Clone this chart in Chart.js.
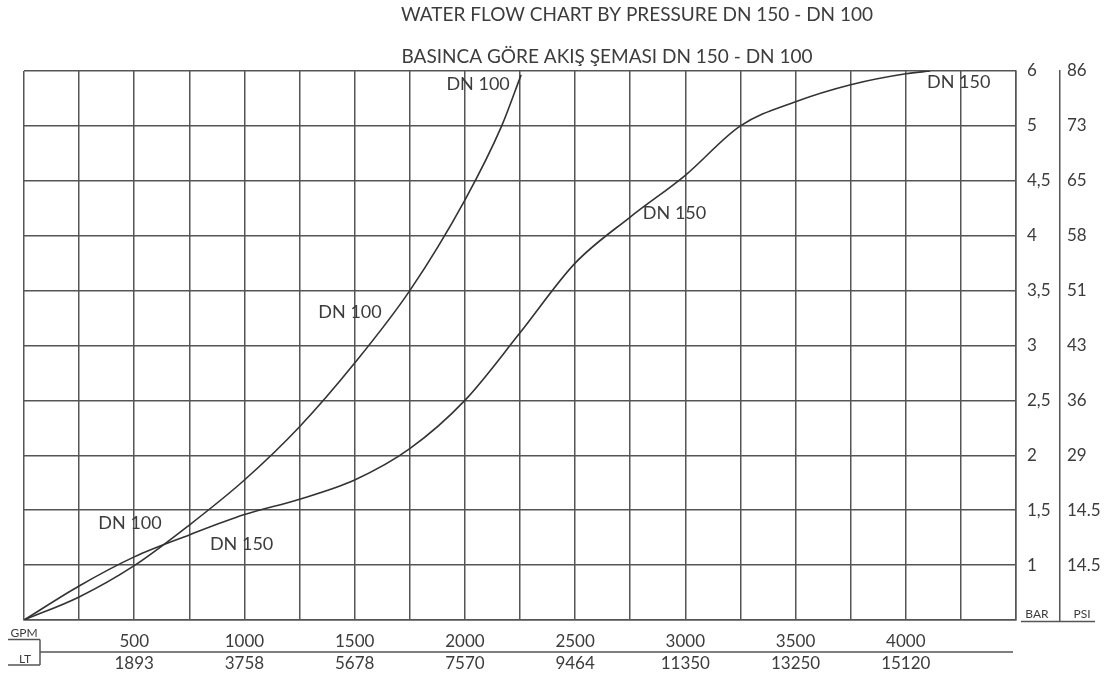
<!DOCTYPE html>
<html>
<head>
<meta charset="utf-8">
<script src="https://cdn.jsdelivr.net/npm/chart.js@4.4.1/dist/chart.umd.min.js"></script>
<style>
  html, body { margin: 0; padding: 0; background: #fff; }
  #wrap { width: 1105px; height: 688px; position: relative; }
</style>
</head>
<body>
<div id="wrap"><canvas id="grafico"></canvas></div>
<script>
// eje X: caudal en GPM (cada linea de rejilla = 250 GPM)
const gpmTicks = [500, 1000, 1500, 2000, 2500, 3000, 3500, 4000];
const ltTicks = [1893, 3758, 5678, 7570, 9464, 11350, 13250, 15120];

// eje Y: la escala no es lineal, cada fila de la rejilla es un escalon
const barLabels = ['', '1', '1,5', '2', '2,5', '3', '3,5', '4', '4,5', '5', '6'];
const psiLabels = ['', '14.5', '14.5', '29', '36', '43', '51', '58', '65', '73', '86'];

// curvas (y = fila de la rejilla)
const dn100Gpm = [0, 250, 500, 750, 1000, 1250, 1500, 1750, 2000, 2167, 2255];
const dn100Nivel = [0, 0.42, 0.99, 1.73, 2.55, 3.52, 4.68, 6.0, 7.65, 9.0, 9.93];

const dn150Gpm = [0, 250, 500, 750, 1000, 1250, 1500, 1750, 2000, 2250, 2500, 2750, 3000, 3250, 3500, 3750, 4000, 4111];
const dn150Nivel = [0, 0.62, 1.15, 1.55, 1.92, 2.2, 2.55, 3.12, 4.0, 5.23, 6.5, 7.34, 8.1, 9.0, 9.44, 9.75, 9.95, 10.0];

// etiquetas de las curvas
const etiquetas = [
    { texto: 'DN 100', gpm: 2060, nivel: 9.76 },
    { texto: 'DN 100', gpm: 1479, nivel: 5.61 },
    { texto: 'DN 100', gpm: 481, nivel: 1.77 },
    { texto: 'DN 150', gpm: 987, nivel: 1.38 },
    { texto: 'DN 150', gpm: 2951, nivel: 7.41 },
    { texto: 'DN 150', gpm: 4240, nivel: 9.79 }
];

const GRIS = '#555';
const TEXTO = '#3c3c3c';
const FUENTE = 'Lato, "Open Sans", sans-serif';

const puntos = (xs, ys) => xs.map((x, i) => ({ x: x, y: ys[i] }));

const extras = {
    id: 'extras',
    afterDraw(chart) {
        const ctx = chart.ctx;
        const sx = chart.scales.x, sy = chart.scales.y;
        const area = chart.chartArea;
        ctx.save();
        ctx.fillStyle = TEXTO;
        ctx.textBaseline = 'middle';

        // titulos
        ctx.font = '19px ' + FUENTE;
        ctx.textAlign = 'center';
        ctx.fillText('WATER FLOW CHART BY PRESSURE DN 150 - DN 100', 637, 15);
        ctx.fillText('BASINCA GÖRE AKIŞ ŞEMASI DN 150 - DN 100', 607, 57);

        // etiquetas de curvas
        ctx.font = '18px ' + FUENTE;
        etiquetas.forEach(e => {
            ctx.fillText(e.texto, sx.getPixelForValue(e.gpm), sy.getPixelForValue(e.nivel));
        });

        // caja GPM / LT
        ctx.strokeStyle = GRIS;
        ctx.lineWidth = 1.5;
        ctx.beginPath();
        ctx.moveTo(8, 639.5); ctx.lineTo(40, 639.5);
        ctx.moveTo(40, 639.5); ctx.lineTo(40, 665);
        ctx.moveTo(8, 665); ctx.lineTo(40, 665);
        ctx.moveTo(40, 652); ctx.lineTo(area.right - 3, 652);
        // BAR / PSI
        ctx.moveTo(area.right + 5, 621.5); ctx.lineTo(1095, 621.5);
        ctx.stroke();

        ctx.font = '12px ' + FUENTE;
        ctx.textAlign = 'center';
        ctx.fillText('GPM', 24, 633);
        ctx.fillText('LT', 25, 659);
        ctx.fillText('BAR', 1037, 614);
        ctx.fillText('PSI', 1082, 614);
        ctx.restore();
    }
};

new Chart(document.getElementById('grafico'), {
    type: 'line',
    data: {
        datasets: [
            { label: 'DN 100', data: puntos(dn100Gpm, dn100Nivel) },
            { label: 'DN 150', data: puntos(dn150Gpm, dn150Nivel) }
        ]
    },
    options: {
        responsive: true,
        maintainAspectRatio: false,
        animation: false,
        layout: { padding: { left: 24, right: 0, top: 71, bottom: 8 } },
        elements: {
            line: { borderColor: '#333', borderWidth: 1.6, fill: false, cubicInterpolationMode: 'monotone' },
            point: { radius: 0 }
        },
        plugins: { legend: { display: false }, tooltip: { enabled: false } },
        scales: {
            x: {
                type: 'linear', min: 0, max: 4500,
                afterFit: s => { s.height = 60; },
                grid: { color: GRIS, lineWidth: 1.5, drawTicks: false },
                border: { color: GRIS, width: 1.5 },
                ticks: {
                    stepSize: 250, autoSkip: false, maxRotation: 0, padding: 10,
                    color: TEXTO, font: { family: FUENTE, size: 17, lineHeight: 1.3 },
                    callback: v => {
                        const i = gpmTicks.indexOf(v);
                        return i >= 0 ? [String(v), String(ltTicks[i])] : '';
                    }
                }
            },
            y: {
                type: 'linear', position: 'right', min: 0, max: 10,
                afterFit: s => { s.width = 44; },
                grid: { color: GRIS, lineWidth: 1.5, drawTicks: false },
                border: { color: GRIS, width: 1.5 },
                ticks: {
                    stepSize: 1, padding: 11, color: TEXTO,
                    font: { family: FUENTE, size: 17 },
                    callback: v => barLabels[v]
                }
            },
            y2: {
                type: 'linear', position: 'right', min: 0, max: 10,
                afterFit: s => { s.width = 45; },
                grid: { drawOnChartArea: false, drawTicks: false },
                border: { color: GRIS, width: 1.5 },
                ticks: {
                    stepSize: 1, padding: 7, color: TEXTO,
                    font: { family: FUENTE, size: 17 },
                    callback: v => psiLabels[v]
                }
            }
        }
    },
    plugins: [extras]
});
</script>
</body>
</html>
